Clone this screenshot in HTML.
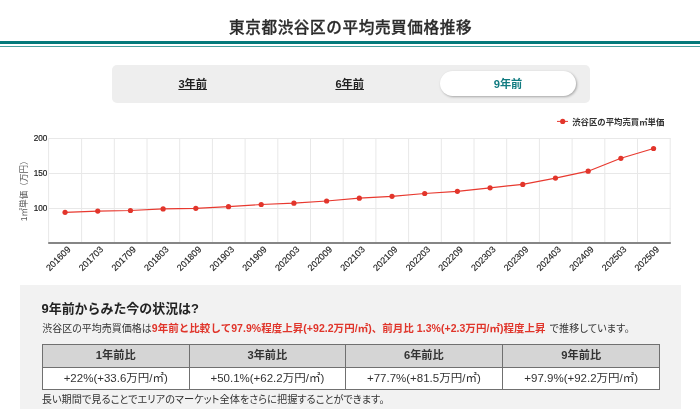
<!DOCTYPE html>
<html lang="ja">
<head>
<meta charset="utf-8">
<title>東京都渋谷区の平均売買価格推移</title>
<style>
html,body{margin:0;padding:0;}
body{width:700px;height:409px;overflow:hidden;background:#fff;position:relative;font-family:"Liberation Sans", "Noto Sans CJK JP", sans-serif;color:#333;}
.title{position:absolute;left:0.6px;top:14.6px;width:700px;text-align:center;font-size:15.6px;font-weight:500;line-height:26px;color:#2b2b2b;letter-spacing:.62px;-webkit-text-stroke:.3px #2b2b2b;}
.rule1{position:absolute;left:0;top:41.25px;width:700px;height:2.8px;background:#03797a;}
.rule2{position:absolute;left:0;top:45.6px;width:700px;height:1px;background:#4aa09f;}
.tabs{position:absolute;left:112px;top:64.6px;width:477.5px;height:38.9px;background:#eee;border-radius:5px;}
.tab{position:absolute;top:6.4px;height:25.5px;line-height:26.5px;width:135.4px;text-align:center;font-size:11.2px;font-weight:700;color:#222;}
.tab span{text-decoration:underline;}
.tab.t1{left:13px;}
.tab.t2{left:170px;}
.tab.t3{left:328.3px;background:#fff;border-radius:13px;box-shadow:1px 1px 2.5px rgba(0,0,0,.3);color:#117b80;}
.tab.t3 span{text-decoration:none;}
svg.chart{position:absolute;left:0;top:105px;}
svg text{font-family:"Liberation Sans", "Noto Sans CJK JP", sans-serif;}
.yl{font-size:8.2px;fill:#222;stroke:#222;stroke-width:.2px;}
.yt{font-size:8.62px;fill:#5a5a5a;}
.xl{font-size:9.1px;fill:#222;stroke:#222;stroke-width:.15px;}
.lg{font-size:8.38px;font-weight:700;fill:#333;}
.box{position:absolute;left:20.4px;top:284.8px;width:660.4px;height:130px;background:#f2f2f2;}
.h2{position:absolute;left:41.5px;top:299.1px;font-size:12.95px;font-weight:700;line-height:20px;color:#222;white-space:nowrap;}
.desc{position:absolute;left:42.2px;top:320.4px;font-size:10px;font-feature-settings:'palt';line-height:16px;color:#333;white-space:nowrap;}
.desc .tail{letter-spacing:.2px;}
.desc b{color:#e0352b;font-weight:700;font-size:10.5px;font-feature-settings:normal;letter-spacing:.04px;margin-right:1px;}
table{position:absolute;left:41.5px;top:343.6px;width:618px;border-collapse:collapse;table-layout:fixed;}
th,td{border:1px solid #707070;text-align:center;padding:0 0 2.4px 0;font-size:11.5px;color:#333;}
th{background:#d5d5d5;height:19.6px;font-weight:700;font-size:11.2px;}
td{background:#fff;height:19.5px;font-weight:400;}
.foot{position:absolute;left:41.7px;top:391.5px;font-size:10.2px;font-feature-settings:'palt';line-height:16px;color:#333;white-space:nowrap;}
</style>
</head>
<body>
<div class="title">東京都渋谷区の平均売買価格推移</div>
<div class="rule1"></div><div class="rule2"></div>
<div class="tabs">
<div class="tab t1"><span>3年前</span></div>
<div class="tab t2"><span>6年前</span></div>
<div class="tab t3"><span>9年前</span></div>
</div>
<svg class="chart" width="700" height="180" viewBox="0 105 700 180">
<path d="M48.4 138.5H670.7" stroke="#e8e8e8" stroke-width="1" fill="none"/>
<path d="M48.4 173.5H670.7" stroke="#e8e8e8" stroke-width="1" fill="none"/>
<path d="M48.4 208.5H670.7" stroke="#e8e8e8" stroke-width="1" fill="none"/>
<path d="M81.60 138.5V242.6" stroke="#e8e8e8" stroke-width="1" fill="none"/>
<path d="M114.30 138.5V242.6" stroke="#e8e8e8" stroke-width="1" fill="none"/>
<path d="M147.00 138.5V242.6" stroke="#e8e8e8" stroke-width="1" fill="none"/>
<path d="M179.70 138.5V242.6" stroke="#e8e8e8" stroke-width="1" fill="none"/>
<path d="M212.40 138.5V242.6" stroke="#e8e8e8" stroke-width="1" fill="none"/>
<path d="M245.10 138.5V242.6" stroke="#e8e8e8" stroke-width="1" fill="none"/>
<path d="M277.80 138.5V242.6" stroke="#e8e8e8" stroke-width="1" fill="none"/>
<path d="M310.50 138.5V242.6" stroke="#e8e8e8" stroke-width="1" fill="none"/>
<path d="M343.20 138.5V242.6" stroke="#e8e8e8" stroke-width="1" fill="none"/>
<path d="M375.90 138.5V242.6" stroke="#e8e8e8" stroke-width="1" fill="none"/>
<path d="M408.60 138.5V242.6" stroke="#e8e8e8" stroke-width="1" fill="none"/>
<path d="M441.30 138.5V242.6" stroke="#e8e8e8" stroke-width="1" fill="none"/>
<path d="M474.00 138.5V242.6" stroke="#e8e8e8" stroke-width="1" fill="none"/>
<path d="M506.70 138.5V242.6" stroke="#e8e8e8" stroke-width="1" fill="none"/>
<path d="M539.40 138.5V242.6" stroke="#e8e8e8" stroke-width="1" fill="none"/>
<path d="M572.10 138.5V242.6" stroke="#e8e8e8" stroke-width="1" fill="none"/>
<path d="M604.80 138.5V242.6" stroke="#e8e8e8" stroke-width="1" fill="none"/>
<path d="M637.50 138.5V242.6" stroke="#e8e8e8" stroke-width="1" fill="none"/>
<path d="M670.2 138.5V242.6" stroke="#e8e8e8" stroke-width="1" fill="none"/>
<path d="M48.6 138.5V242.6" stroke="#e8e8e8" stroke-width="1" fill="none"/>
<path d="M48.2 242.9H670.8" stroke="#868686" stroke-width="2" fill="none"/>
<polyline points="65.05,212.30 97.74,211.10 130.44,210.50 163.13,208.90 195.83,208.30 228.52,206.70 261.22,204.50 293.91,203.20 326.61,201.00 359.30,198.20 391.99,196.30 424.69,193.50 457.38,191.30 490.08,187.80 522.77,184.40 555.47,178.10 588.16,171.20 620.86,158.30 653.55,148.50" fill="none" stroke="#e8392f" stroke-width="1.2" stroke-linejoin="round"/>
<circle cx="65.05" cy="212.30" r="2.6" fill="#e2352b"/>
<circle cx="97.74" cy="211.10" r="2.6" fill="#e2352b"/>
<circle cx="130.44" cy="210.50" r="2.6" fill="#e2352b"/>
<circle cx="163.13" cy="208.90" r="2.6" fill="#e2352b"/>
<circle cx="195.83" cy="208.30" r="2.6" fill="#e2352b"/>
<circle cx="228.52" cy="206.70" r="2.6" fill="#e2352b"/>
<circle cx="261.22" cy="204.50" r="2.6" fill="#e2352b"/>
<circle cx="293.91" cy="203.20" r="2.6" fill="#e2352b"/>
<circle cx="326.61" cy="201.00" r="2.6" fill="#e2352b"/>
<circle cx="359.30" cy="198.20" r="2.6" fill="#e2352b"/>
<circle cx="391.99" cy="196.30" r="2.6" fill="#e2352b"/>
<circle cx="424.69" cy="193.50" r="2.6" fill="#e2352b"/>
<circle cx="457.38" cy="191.30" r="2.6" fill="#e2352b"/>
<circle cx="490.08" cy="187.80" r="2.6" fill="#e2352b"/>
<circle cx="522.77" cy="184.40" r="2.6" fill="#e2352b"/>
<circle cx="555.47" cy="178.10" r="2.6" fill="#e2352b"/>
<circle cx="588.16" cy="171.20" r="2.6" fill="#e2352b"/>
<circle cx="620.86" cy="158.30" r="2.6" fill="#e2352b"/>
<circle cx="653.55" cy="148.50" r="2.6" fill="#e2352b"/>
<text x="47.4" y="140.8" text-anchor="end" class="yl">200</text>
<text x="47.4" y="175.8" text-anchor="end" class="yl">150</text>
<text x="47.4" y="210.8" text-anchor="end" class="yl">100</text>
<text transform="translate(27.4,188.8) rotate(-90)" text-anchor="middle" class="yt">1㎡単価（万円）</text>
<text transform="translate(71.25,250.0) rotate(-45)" text-anchor="end" class="xl">201609</text>
<text transform="translate(103.94,250.0) rotate(-45)" text-anchor="end" class="xl">201703</text>
<text transform="translate(136.64,250.0) rotate(-45)" text-anchor="end" class="xl">201709</text>
<text transform="translate(169.33,250.0) rotate(-45)" text-anchor="end" class="xl">201803</text>
<text transform="translate(202.03,250.0) rotate(-45)" text-anchor="end" class="xl">201809</text>
<text transform="translate(234.72,250.0) rotate(-45)" text-anchor="end" class="xl">201903</text>
<text transform="translate(267.42,250.0) rotate(-45)" text-anchor="end" class="xl">201909</text>
<text transform="translate(300.11,250.0) rotate(-45)" text-anchor="end" class="xl">202003</text>
<text transform="translate(332.81,250.0) rotate(-45)" text-anchor="end" class="xl">202009</text>
<text transform="translate(365.50,250.0) rotate(-45)" text-anchor="end" class="xl">202103</text>
<text transform="translate(398.19,250.0) rotate(-45)" text-anchor="end" class="xl">202109</text>
<text transform="translate(430.89,250.0) rotate(-45)" text-anchor="end" class="xl">202203</text>
<text transform="translate(463.58,250.0) rotate(-45)" text-anchor="end" class="xl">202209</text>
<text transform="translate(496.28,250.0) rotate(-45)" text-anchor="end" class="xl">202303</text>
<text transform="translate(528.97,250.0) rotate(-45)" text-anchor="end" class="xl">202309</text>
<text transform="translate(561.67,250.0) rotate(-45)" text-anchor="end" class="xl">202403</text>
<text transform="translate(594.36,250.0) rotate(-45)" text-anchor="end" class="xl">202409</text>
<text transform="translate(627.06,250.0) rotate(-45)" text-anchor="end" class="xl">202503</text>
<text transform="translate(659.75,250.0) rotate(-45)" text-anchor="end" class="xl">202509</text>
<path d="M557 121.4H568" stroke="#e8392f" stroke-width="1"/>
<circle cx="562.7" cy="121.4" r="2.6" fill="#e2352b"/>
<text x="572.2" y="124.7" class="lg">渋谷区の平均売買㎡単価</text>
</svg>
<div class="box"></div>
<div class="h2">9年前からみた今の状況は?</div>
<div class="desc">渋谷区の平均売買価格は<b>9年前と比較して97.9%程度上昇(+92.2万円/㎡)、前月比 1.3%(+2.3万円/㎡)程度上昇</b><span class="tail"> で推移しています。</span></div>
<table>
<colgroup><col style="width:147.5px"><col style="width:155.7px"><col style="width:157.3px"><col style="width:157.5px"></colgroup>
<tr><th>1年前比</th><th>3年前比</th><th>6年前比</th><th>9年前比</th></tr>
<tr><td>+22%(+33.6万円/㎡)</td><td>+50.1%(+62.2万円/㎡)</td><td>+77.7%(+81.5万円/㎡)</td><td>+97.9%(+92.2万円/㎡)</td></tr>
</table>
<div class="foot">長い期間で見ることでエリアのマーケット全体をさらに把握することができます。</div>
</body>
</html>
